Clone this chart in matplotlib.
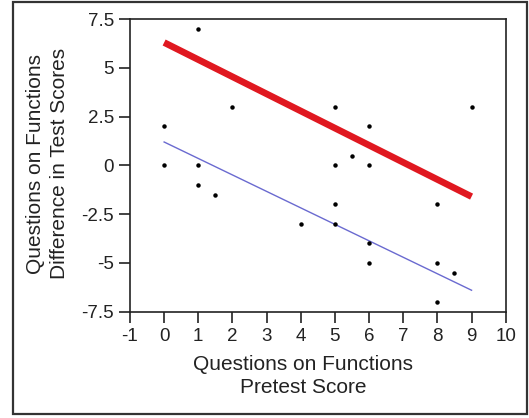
import matplotlib
matplotlib.use("Agg")
import matplotlib.pyplot as plt
from matplotlib.patches import Rectangle

# ── Data ──────────────────────────────────────────────────────────────────────
pretest = [0, 0, 1, 1, 1, 1.5, 2, 4, 5, 5, 5, 5, 5.5, 6, 6, 6, 6, 8, 8, 8, 8.5, 9]
diff = [2, 0, 7, 0, -1, -1.5, 3, -3, 3, 0, -2, -3, 0.5, 2, 0, -4, -5, -2, -5, -7, -5.5, 3]

fit_x = [0, 9]
red_fit = [6.3, -1.6]
blue_fit = [1.2, -6.4]

x_ticks = list(range(-1, 11))
y_ticks = [-7.5, -5, -2.5, 0, 2.5, 5, 7.5]
y_tick_labels = ["-7.5", "-5", "-2.5", "0", "2.5", "5", "7.5"]

plt.rcParams["font.family"] = ["Liberation Sans", "DejaVu Sans"]
plt.rcParams["axes.unicode_minus"] = False

fig = plt.figure(figsize=(5.29, 4.18), dpi=100)
fig.patch.set_facecolor("white")
ax = fig.add_axes([0.2457, 0.2543, 0.7103, 0.700])

ax.plot(fit_x, red_fit, color="#e01820", lw=4.8, solid_capstyle="butt", zorder=2)
ax.plot(fit_x, blue_fit, color="#6a6ad0", lw=1.0, zorder=2)
ax.plot(pretest, diff, "o", color="black", ms=2.2, zorder=3)

ax.set_xlim(-1, 10)
ax.set_ylim(-7.5, 7.5)
ax.set_xticks(x_ticks)
ax.set_yticks(y_ticks)
ax.set_yticklabels(y_tick_labels)
ax.tick_params(direction="out", length=8, width=1.2, labelsize=13.5,
               colors="#222222", pad=3.5)
for s in ax.spines.values():
    s.set_linewidth(1.2)
    s.set_color("#222222")

fig.text(0.573, 0.100, "Questions on Functions\nPretest Score",
         ha="center", va="center", fontsize=15, color="#222222",
         linespacing=1.3)
fig.text(0.090, 0.608, "Questions on Functions\nDifference in Test Scores",
         ha="center", va="center", rotation=90, fontsize=15,
         color="#222222", linespacing=1.3)

# outer frame
fig.patches.append(Rectangle((0.0246, 0.0096), 0.9716, 0.9856,
                             transform=fig.transFigure, fill=False,
                             edgecolor="#333333", lw=1.6))

fig.savefig("out.png", dpi=100)
